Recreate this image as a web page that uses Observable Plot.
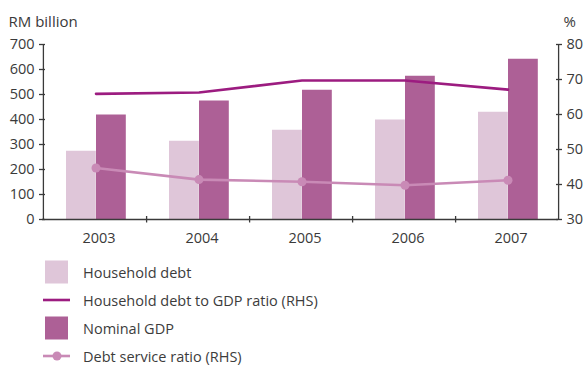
<!DOCTYPE html>
<html>
<head>
<meta charset="utf-8">
<script src="https://cdn.jsdelivr.net/npm/d3@7"></script>
<script src="https://cdn.jsdelivr.net/npm/@observablehq/plot@0.6"></script>
<style>
  body { margin: 0; background: #fff; font-family: "Open Sans", sans-serif; color: #3c3c3c; }
  #wrap { width: 584px; }
  .legend { padding-top: 6px; }
  .item { display: flex; align-items: center; height: 28px; font-size: 14.5px; }
  .item svg { margin-left: 42px; margin-right: 13px; }
</style>
</head>
<body>
<div id="wrap"></div>
<script>
const years = ["2003", "2004", "2005", "2006", "2007"];
const householdDebt = [273, 313, 357, 398, 429];
const nominalGDP = [418, 474, 517, 573, 641];
const debtToGDP = [65.9, 66.3, 69.7, 69.7, 67.1];
const debtService = [44.7, 41.4, 40.8, 39.8, 41.2];
const leftTicks = [0, 100, 200, 300, 400, 500, 600, 700];
const rightTicks = [30, 40, 50, 60, 70, 80];

const colors = {
  debt: "#dfc6d9",
  gdp: "#ad6096",
  ratio: "#9c1c80",
  dsr: "#c98ab6",
  axis: "#3a3a3a"
};

// right axis (30..80 %) mapped onto left scale (0..700)
const toLeft = v => (v - 30) * 14;

const bars = years.map((y, i) => ({year: y, debt: householdDebt[i], gdp: nominalGDP[i]}));
const ratio = years.map((y, i) => ({year: y, v: toLeft(debtToGDP[i])}));
const dsr = years.map((y, i) => ({year: y, v: toLeft(debtService[i])}));

const chart = Plot.plot({
  width: 584,
  height: 252,
  marginLeft: 42,
  marginRight: 26,
  marginTop: 44,
  marginBottom: 33,
  style: {fontFamily: "Open Sans, sans-serif", fontSize: "14.5px", color: colors.axis},
  x: {type: "band", domain: years, padding: 0, axis: null},
  y: {domain: [0, 700], axis: null},
  marks: [
    Plot.barY(bars, {x: "year", y: "debt", fill: colors.debt, insetLeft: 23, insetRight: 50.2}),
    Plot.barY(bars, {x: "year", y: "gdp", fill: colors.gdp, insetLeft: 53, insetRight: 20.2}),
    Plot.line(ratio, {x: "year", y: "v", stroke: colors.ratio, strokeWidth: 2.6, dx: 1}),
    Plot.line(dsr, {x: "year", y: "v", stroke: colors.dsr, strokeWidth: 2.6, dx: 1}),
    Plot.dot(dsr, {x: "year", y: "v", fill: colors.dsr, r: 4.5, dx: 1}),
    // axis lines (at outer band edges)
    Plot.ruleX([years[0]], {x: d => d, dx: -51.6, y1: 0, y2: 700, stroke: colors.axis, strokeWidth: 1.3}),
    Plot.ruleX([years[4]], {x: d => d, dx: 51.6, y1: 0, y2: 700, stroke: colors.axis, strokeWidth: 1.3}),
    Plot.ruleY([0], {stroke: colors.axis, strokeWidth: 1.3}),
    // x tick marks at band boundaries
    Plot.ruleX(years.slice(0, 4), {x: d => d, dx: 51.6, y1: 12, y2: -14, stroke: colors.axis, strokeWidth: 1.3}),
    // left axis
    Plot.axisY(leftTicks, {anchor: "left", tickSize: 6, tickPadding: 5, dx: 3, stroke: colors.axis, fill: colors.axis, strokeWidth: 1.3, label: null}),
    // right axis
    Plot.axisY(rightTicks.map(toLeft), {anchor: "right", tickSize: 6, tickPadding: 5, dx: -3, stroke: colors.axis, fill: colors.axis, strokeWidth: 1.3, label: null, tickFormat: v => String(v / 14 + 30)}),
    // x axis labels
    Plot.axisX({anchor: "bottom", tickSize: 0, tickPadding: 13, dx: 4, fill: colors.axis, label: null}),
    // unit labels
    Plot.text(["RM billion"], {frameAnchor: "top-left", dx: -34, dy: -28, textAnchor: "start", fill: colors.axis, fontSize: 15}),
    Plot.text(["%"], {frameAnchor: "top-right", dx: 5, dy: -28, textAnchor: "start", fill: colors.axis, fontSize: 15})
  ]
});

const wrap = document.getElementById("wrap");
wrap.appendChild(chart);

const legendItems = [
  {label: "Household debt", type: "box", color: colors.debt},
  {label: "Household debt to GDP ratio (RHS)", type: "line", color: colors.ratio},
  {label: "Nominal GDP", type: "box", color: colors.gdp},
  {label: "Debt service ratio (RHS)", type: "dotline", color: colors.dsr}
];
const legend = document.createElement("div");
legend.className = "legend";
for (const it of legendItems) {
  const row = document.createElement("div");
  row.className = "item";
  let sw;
  if (it.type === "box") sw = `<svg width="28" height="24"><rect x="3" y="0.5" width="23" height="23" fill="${it.color}"/></svg>`;
  else if (it.type === "line") sw = `<svg width="28" height="24"><line x1="1" x2="29" y1="12" y2="12" stroke="${it.color}" stroke-width="2.6"/></svg>`;
  else sw = `<svg width="28" height="24"><line x1="1" x2="29" y1="12" y2="12" stroke="${it.color}" stroke-width="2.6"/><circle cx="15" cy="12" r="4.5" fill="${it.color}"/></svg>`;
  row.innerHTML = sw + `<span>${it.label}</span>`;
  legend.appendChild(row);
}
wrap.appendChild(legend);
</script>
</body>
</html>
